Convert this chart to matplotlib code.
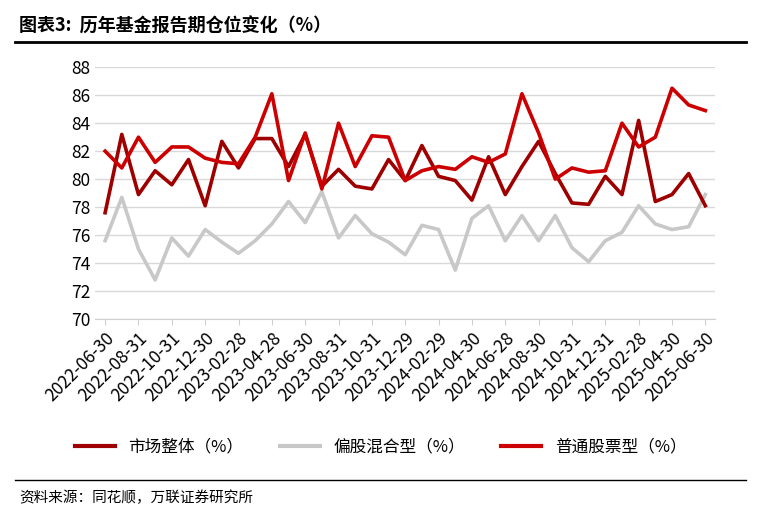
import numpy as np, pandas as pd, matplotlib
matplotlib.use("Agg"); import matplotlib.pyplot as plt
from matplotlib.lines import Line2D
plt.rcParams['font.family'] = ['Noto Sans CJK SC', 'DejaVu Sans']

dates = pd.date_range("2022-06-30", periods=37, freq="ME")
tick_labels = ["2022-06-30","2022-08-31","2022-10-31","2022-12-30","2023-02-28","2023-04-28","2023-06-30",
               "2023-08-31","2023-10-31","2023-12-29","2024-02-29","2024-04-30","2024-06-28","2024-08-30",
               "2024-10-31","2024-12-31","2025-02-28","2025-04-30","2025-06-30"]
market = [77.6,83.2,78.9,80.6,79.6,81.4,78.1,82.7,80.8,82.9,82.9,80.9,83.2,79.5,80.7,79.5,79.3,81.4,
          79.9,82.4,80.2,79.9,78.5,81.6,78.9,80.9,82.7,80.4,78.3,78.2,80.2,78.9,84.2,78.4,78.9,80.4,78.1]
mixed = [75.6,78.7,75.0,72.8,75.8,74.5,76.4,75.5,74.7,75.6,76.8,78.4,76.9,79.1,75.8,77.4,76.1,75.5,
         74.6,76.7,76.4,73.5,77.2,78.1,75.6,77.4,75.6,77.4,75.1,74.1,75.6,76.2,78.1,76.8,76.4,76.6,78.9]
stock = [82.0,80.8,83.0,81.2,82.3,82.3,81.5,81.2,81.1,83.0,86.1,79.9,83.3,79.3,84.0,80.9,83.1,83.0,
         79.9,80.6,80.9,80.7,81.6,81.2,81.8,86.1,83.3,80.0,80.8,80.5,80.6,84.0,82.3,83.0,86.5,85.3,84.9]

fig = plt.figure(figsize=(7.61, 5.13), dpi=100)
ax = fig.add_axes([0.125, 0.378, 0.815, 0.491])
x = np.arange(len(dates))
ax.plot(x, market, color="#9E0000", lw=2.6, zorder=3)
ax.plot(x, mixed, color="#C8C8C8", lw=2.6, zorder=2)
ax.plot(x, stock, color="#CC0000", lw=2.6, zorder=4)
ax.set_ylim(70, 88); ax.set_yticks(range(70, 89, 2))
ax.set_xlim(-0.6, len(x) - 0.4)
ax.set_xticks(x[::2]); ax.set_xticklabels(tick_labels, rotation=45, ha="right", rotation_mode="anchor", fontsize=12.5)
ax.tick_params(axis="y", labelsize=12.5, length=0)
ax.tick_params(axis="x", length=4, color="#D0D0D0")
ax.grid(axis="y", color="#D9D9D9", lw=1)
for s in ["top", "right", "left"]: ax.spines[s].set_visible(False)
ax.spines["bottom"].set_color("#D0D0D0")

handles = [Line2D([], [], color=c, lw=3) for c in ["#9E0000", "#C8C8C8", "#CC0000"]]
fig.legend(handles, ["市场整体（%）", "偏股混合型（%）", "普通股票型（%）"], loc="center", bbox_to_anchor=(0.5, 0.128),
           ncol=3, frameon=False, fontsize=12, handlelength=2.4, columnspacing=2.2)

fig.text(0.025, 0.95, "图表3:  历年基金报告期仓位变化（%）", fontsize=13, fontweight="bold", va="center")
fig.add_artist(Line2D([0.02, 0.98], [0.918, 0.918], color="black", lw=2))
fig.add_artist(Line2D([0.02, 0.98], [0.065, 0.065], color="black", lw=1))
fig.text(0.025, 0.03, "资料来源：同花顺，万联证券研究所", fontsize=10.5, style="italic", va="center")
fig.savefig("out.png", dpi=100)
